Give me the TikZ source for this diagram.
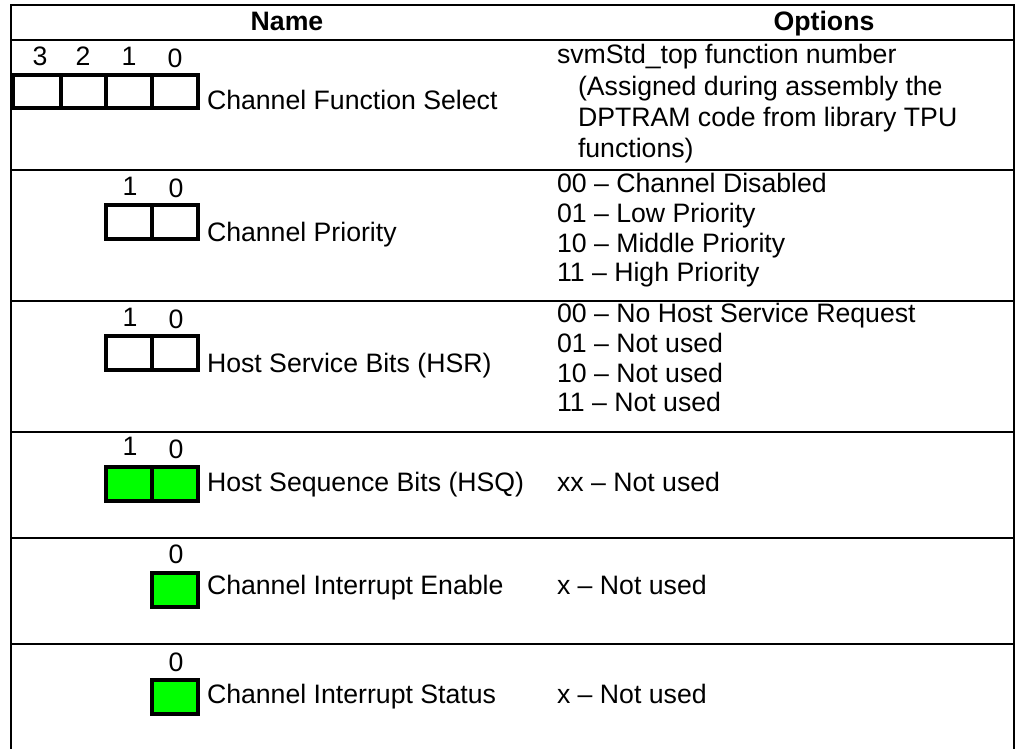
\documentclass[tikz,border=0pt]{standalone}
\usepackage{fontspec}
\setmainfont{Liberation Sans}
\begin{document}
\begin{tikzpicture}[x=0.75pt,y=-0.75pt,
  txt/.style={inner sep=0pt, outer sep=0pt, anchor=base west, font=\fontsize{20}{23}\selectfont},
  head/.style={inner sep=0pt, outer sep=0pt, anchor=base, font=\fontsize{20}{23}\selectfont\bfseries},
  bit/.style={inner sep=0pt, outer sep=0pt, anchor=base, font=\fontsize{20}{23}\selectfont},
  rule/.style={line width=2.2pt},
  bitbox/.style={draw=black, line width=3pt},
  setbox/.style={bitbox, fill=green}]
\useasboundingbox (0,0) rectangle (1017,749);
% table frame
\draw[rule] (11,749) -- (11,5) -- (1014,5) -- (1014,749);
\foreach \yy in {40,170,301,432,538,644}
  \draw[rule] (11,\yy) -- (1014,\yy);
% header
\node[head] (hname) at (287,31) {Name};
\node[head] (hopt) at (824,31) {Options};
% row 1
\foreach \xa/\xb in {13/61,61/106,106/152,152/198}
  \draw[bitbox] (\xa,75) rectangle (\xb,108);
\node[bit] (r1b3) at (40,65) {3};
\node[bit] (r1b2) at (83,65) {2};
\node[bit] (r1b1) at (129,65) {1};
\node[bit] (r1b0) at (175,68) {0};
\node[txt] (r1name) at (207,109) {Channel Function Select};
\node[txt] (r1o1) at (557,64) {svmStd\_top function number};
\node[txt] (r1o2) at (578,95) {(Assigned during assembly the};
\node[txt] (r1o3) at (578,126) {DPTRAM code from library TPU};
\node[txt] (r1o4) at (578,157) {functions)};
% row 2
\draw[bitbox] (106,205) rectangle (152,239);
\draw[bitbox] (152,205) rectangle (198,239);
\node[bit] (r2b1) at (130,195) {1};
\node[bit] (r2b0) at (176,197) {0};
\node[txt] (r2name) at (207,241) {Channel Priority};
\node[txt] (r2o1) at (557,192) {00 -- Channel Disabled};
\node[txt] (r2o2) at (557,222) {01 -- Low Priority};
\node[txt] (r2o3) at (557,252) {10 -- Middle Priority};
\node[txt] (r2o4) at (557,281) {11 -- High Priority};
% row 3
\draw[bitbox] (106,336) rectangle (152,370);
\draw[bitbox] (152,336) rectangle (198,370);
\node[bit] (r3b1) at (130,326) {1};
\node[bit] (r3b0) at (176,328) {0};
\node[txt] (r3name) at (207,372) {Host Service Bits (HSR)};
\node[txt] (r3o1) at (557,322) {00 -- No Host Service Request};
\node[txt] (r3o2) at (557,352) {01 -- Not used};
\node[txt] (r3o3) at (557,382) {10 -- Not used};
\node[txt] (r3o4) at (557,411) {11 -- Not used};
% row 4
\draw[setbox] (106,467) rectangle (152,501);
\draw[setbox] (152,467) rectangle (198,501);
\node[bit] (r4b1) at (130,455) {1};
\node[bit] (r4b0) at (176,458) {0};
\node[txt] (r4name) at (207,491) {Host Sequence Bits (HSQ)};
\node[txt] (r4o1) at (557,491) {xx -- Not used};
% row 5
\draw[setbox] (152,573) rectangle (198,607);
\node[bit] (r5b0) at (176,563) {0};
\node[txt] (r5name) at (207,594) {Channel Interrupt Enable};
\node[txt] (r5o1) at (557,594) {x -- Not used};
% row 6
\draw[setbox] (152,680) rectangle (198,714);
\node[bit] (r6b0) at (176,671) {0};
\node[txt] (r6name) at (207,703) {Channel Interrupt Status};
\node[txt] (r6o1) at (557,703) {x -- Not used};
\end{tikzpicture}
\end{document}
